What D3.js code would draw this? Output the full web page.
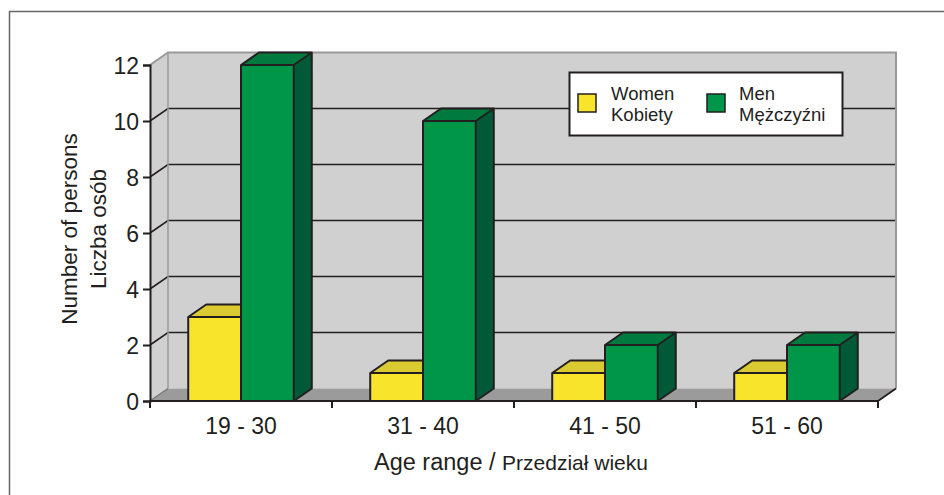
<!DOCTYPE html>
<html>
<head>
<meta charset="utf-8">
<script src="https://cdn.jsdelivr.net/npm/d3@7"></script>
<style>
  html, body { margin: 0; padding: 0; background: #fff; }
  svg { display: block; }
  text { font-family: "Liberation Sans", Arial, Helvetica, sans-serif; fill: #231f20; }
</style>
</head>
<body>
<svg id="chart" width="944" height="495"></svg>
<script>
// Age groups and head counts per group
const categories = ["19 - 30", "31 - 40", "41 - 50", "51 - 60"];
const seriesNames = ["women", "men"];
const women = [3, 1, 1, 1];
const men = [12, 10, 2, 2];
const yTicks = [0, 2, 4, 6, 8, 10, 12];
const legendLabels = [["Women", "Kobiety"], ["Men", "Mężczyźni"]];

const ink = "#231f20";
const colors = {
  women: { front: "#f8e52b", top: "#dacb30", side: "#b8a820" },
  men:   { front: "#009649", top: "#007a3e", side: "#005a37" }
};

const svg = d3.select("#chart");

// outer frame
svg.append("path").attr("d", "M9.5,495 V11.5 H944").attr("fill", "none")
  .attr("stroke", "#666").attr("stroke-width", 1.5);

// plot geometry: front plane and 3D depth offset
const pL = 150, pR = 878, pB = 401, pT = 65;
const dx = 18, dy = -12.5;

const x0 = d3.scaleBand().domain(categories).range([pL, pR])
  .paddingInner(0.42).paddingOuter(0.21);
const x1 = d3.scaleBand().domain(seriesNames).range([0, x0.bandwidth()]);
const y = d3.scaleLinear().domain([0, 12]).range([pB, pT]);

const g = svg.append("g");

// back wall
g.append("rect").attr("x", pL + dx).attr("y", pT + dy)
  .attr("width", pR - pL).attr("height", pB - pT)
  .attr("fill", "#d0d0d0");
// left wall
g.append("path")
  .attr("d", `M${pL},${y(12)} L${pL + dx},${y(12) + dy} L${pL + dx},${y(0) + dy} L${pL},${y(0)} Z`)
  .attr("fill", "#d0d0d0");

// gridlines on both walls
const inner = yTicks.filter(v => v > 0 && v < 12);
g.selectAll(".grid").data(inner).join("path")
  .attr("d", v => `M${pL},${y(v)} L${pL + dx},${y(v) + dy} H${pR + dx}`)
  .attr("fill", "none").attr("stroke", ink).attr("stroke-width", 1.6);

// wall edges
g.append("path")
  .attr("d", `M${pL},${y(12)} L${pL + dx},${y(12) + dy} H${pR + dx} V${y(0) + dy}`)
  .attr("fill", "none").attr("stroke", "#999").attr("stroke-width", 2);
g.append("line").attr("x1", pL + dx).attr("x2", pL + dx)
  .attr("y1", y(12) + dy).attr("y2", y(0) + dy)
  .attr("stroke", "#9a9a9a").attr("stroke-width", 1.5);

// floor
g.append("path")
  .attr("d", `M${pL},${pB} L${pL + dx},${pB + dy} H${pR + dx} L${pR},${pB} Z`)
  .attr("fill", "#9b9b9b");
g.append("path")
  .attr("d", `M${pL},${pB} L${pL + dx},${pB + dy}`)
  .attr("stroke", "#777").attr("stroke-width", 1.5);
g.append("path")
  .attr("d", `M${pR},${pB} L${pR + dx},${pB + dy}`)
  .attr("stroke", ink).attr("stroke-width", 1.8);

// bars
const rows = categories.map((c, i) => ({ cat: c, values: [
  { key: "women", value: women[i] }, { key: "men", value: men[i] }
]}));

function drawBar(sel, d, cat) {
  const x = x0(cat) + x1(d.key), w = x1.bandwidth();
  const yTop = y(d.value), yBase = y(0);
  const c = colors[d.key];
  const bar = sel.append("g");
  bar.append("path")
    .attr("d", `M${x + w},${yTop} L${x + w + dx},${yTop + dy} V${yBase + dy} L${x + w},${yBase} Z`)
    .attr("fill", c.side);
  bar.append("path")
    .attr("d", `M${x},${yTop} L${x + dx},${yTop + dy} H${x + w + dx} L${x + w},${yTop} Z`)
    .attr("fill", c.top);
  bar.append("rect").attr("x", x).attr("y", yTop).attr("width", w).attr("height", yBase - yTop)
    .attr("fill", c.front);
  bar.append("path")
    .attr("d", `M${x},${yTop} L${x + dx},${yTop + dy} H${x + w + dx} V${yBase + dy} L${x + w},${yBase} H${x} Z M${x},${yTop} H${x + w} L${x + w + dx},${yTop + dy} M${x + w},${yTop} V${yBase}`)
    .attr("fill", "none").attr("stroke", ink).attr("stroke-width", 2).attr("stroke-linejoin", "round");
}

const barsG = g.append("g");
rows.forEach(r => r.values.forEach(v => drawBar(barsG, v, r.cat)));

// y axis
const yAxis = d3.axisLeft(y).tickValues(yTicks).tickSize(7).tickPadding(4);
const ya = g.append("g").attr("transform", `translate(${pL},0)`).call(yAxis);
ya.select(".domain").attr("stroke", ink).attr("stroke-width", 2);
ya.selectAll(".tick line").attr("stroke", ink).attr("stroke-width", 2);
ya.selectAll(".tick text").attr("font-size", 23).attr("fill", ink)
  .attr("font-family", "Liberation Sans, Arial, sans-serif").attr("dy", "0.36em");

// x axis (ticks on category boundaries)
const xAxis = d3.axisBottom(x0).tickSize(0).tickPadding(0);
const xa = g.append("g").attr("transform", `translate(0,${pB})`).call(xAxis);
xa.select(".domain").remove();
xa.selectAll(".tick text").attr("font-size", 23).attr("fill", ink)
  .attr("font-family", "Liberation Sans, Arial, sans-serif").attr("y", 33).attr("dy", 0);
g.append("line").attr("x1", pL).attr("x2", pR).attr("y1", pB).attr("y2", pB)
  .attr("stroke", ink).attr("stroke-width", 2);
const boundaries = [pL].concat(categories.map(c => x0(c) - x0.step() * x0.paddingInner() / 2 + x0.step()));
g.selectAll(".xtick").data(boundaries).join("line")
  .attr("x1", d => d).attr("x2", d => d).attr("y1", pB).attr("y2", pB + 7)
  .attr("stroke", ink).attr("stroke-width", 2);

// axis titles
const xTitle = svg.append("text").attr("x", 511).attr("y", 470).attr("text-anchor", "middle");
xTitle.append("tspan").attr("font-size", 23.5).text("Age range / ");
xTitle.append("tspan").attr("font-size", 21).text("Przedział wieku");

const yTitle = svg.append("text").attr("transform", "translate(77,229) rotate(-90)")
  .attr("text-anchor", "middle").attr("font-size", 22.5);
yTitle.append("tspan").attr("x", 0).attr("y", 0).text("Number of persons");
yTitle.append("tspan").attr("x", 0).attr("y", 29).text("Liczba osób");

// legend
const lg = svg.append("g");
lg.append("rect").attr("x", 569.5).attr("y", 72.5).attr("width", 273).attr("height", 63)
  .attr("fill", "#fff").attr("stroke", ink).attr("stroke-width", 2);
const items = [{ key: "women", sx: 578, tx: 611 }, { key: "men", sx: 707, tx: 739 }];
items.forEach((it, i) => {
  lg.append("rect").attr("x", it.sx).attr("y", 94).attr("width", 18).attr("height", 18)
    .attr("fill", colors[it.key].front).attr("stroke", ink).attr("stroke-width", 1.5);
  const t = lg.append("text").attr("font-size", 18.5);
  t.append("tspan").attr("x", it.tx).attr("y", 100).text(legendLabels[i][0]);
  t.append("tspan").attr("x", it.tx).attr("y", 121).text(legendLabels[i][1]);
});
</script>
</body>
</html>
